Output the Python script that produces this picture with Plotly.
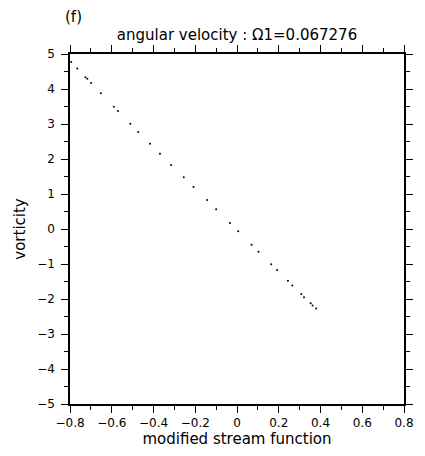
import plotly.graph_objects as go

psi = [-0.794, -0.765, -0.726, -0.717, -0.699, -0.652, -0.590, -0.570, -0.511, -0.473,
       -0.417, -0.369, -0.316, -0.255, -0.208, -0.143, -0.100, -0.034, 0.006, 0.070,
       0.103, 0.164, 0.192, 0.244, 0.265, 0.308, 0.321, 0.353, 0.362, 0.379]
vort = [4.774, 4.584, 4.338, 4.293, 4.168, 3.877, 3.490, 3.368, 3.009, 2.774,
        2.434, 2.151, 1.831, 1.480, 1.197, 0.829, 0.566, 0.170, -0.065, -0.453,
        -0.651, -1.010, -1.168, -1.480, -1.613, -1.859, -1.953, -2.122, -2.187, -2.272]

x_ticks = [-0.8, -0.6, -0.4, -0.2, 0, 0.2, 0.4, 0.6, 0.8]
x_labels = ["−0.8", "−0.6", "−0.4", "−0.2", "0", "0.2", "0.4", "0.6", "0.8"]
y_ticks = [-5, -4, -3, -2, -1, 0, 1, 2, 3, 4, 5]
y_labels = ["−5", "−4", "−3", "−2", "−1", "0", "1", "2", "3", "4", "5"]

FONT = "DejaVu Sans, Verdana, sans-serif"

fig = go.Figure()
fig.add_trace(go.Scatter(x=psi, y=vort, mode="markers",
                         marker=dict(color="black", size=2, line=dict(width=0)),
                         showlegend=False))

axis_common = dict(showgrid=False, zeroline=False, showline=True, linecolor="black",
                   linewidth=1.5, mirror="allticks", ticks="outside", ticklen=7,
                   tickwidth=1.2, tickcolor="black",
                   tickfont=dict(family=FONT, size=12, color="black"))

fig.update_xaxes(range=[-0.8, 0.8], tickvals=x_ticks, ticktext=x_labels,
                 minor=dict(dtick=0.1, ticks="outside", ticklen=4, tickwidth=1, tickcolor="black"),
                 title=dict(text="modified stream function", font=dict(family=FONT, size=15, color="black"),
                            standoff=4),
                 **axis_common)
fig.update_yaxes(range=[-5, 5], tickvals=y_ticks, ticktext=y_labels,
                 minor=dict(dtick=0.5, ticks="outside", ticklen=4, tickwidth=1, tickcolor="black"),
                 ticklabelstandoff=4,
                 title=dict(text="vorticity", font=dict(family=FONT, size=15, color="black"),
                            standoff=8),
                 **axis_common)

# page body has an 8px default margin; compensate so the plot lands where the reference has it
fig.update_layout(
    width=417, height=448,
    margin=dict(l=54, r=11, t=46, b=48),
    paper_bgcolor="white", plot_bgcolor="white",
    title=dict(text="angular velocity : Ω1=0.067276", x=229 / 417, xanchor="center",
               y=1 - 27 / 448, yanchor="middle",
               font=dict(family=FONT, size=15, color="black")),
    annotations=[dict(text="(f)", xref="paper", yref="paper", x=-0.02, y=1 + 37 / 354,
                      xanchor="left", yanchor="middle", showarrow=False,
                      font=dict(family=FONT, size=15, color="black"))],
)

fig.write_html("out.html")
